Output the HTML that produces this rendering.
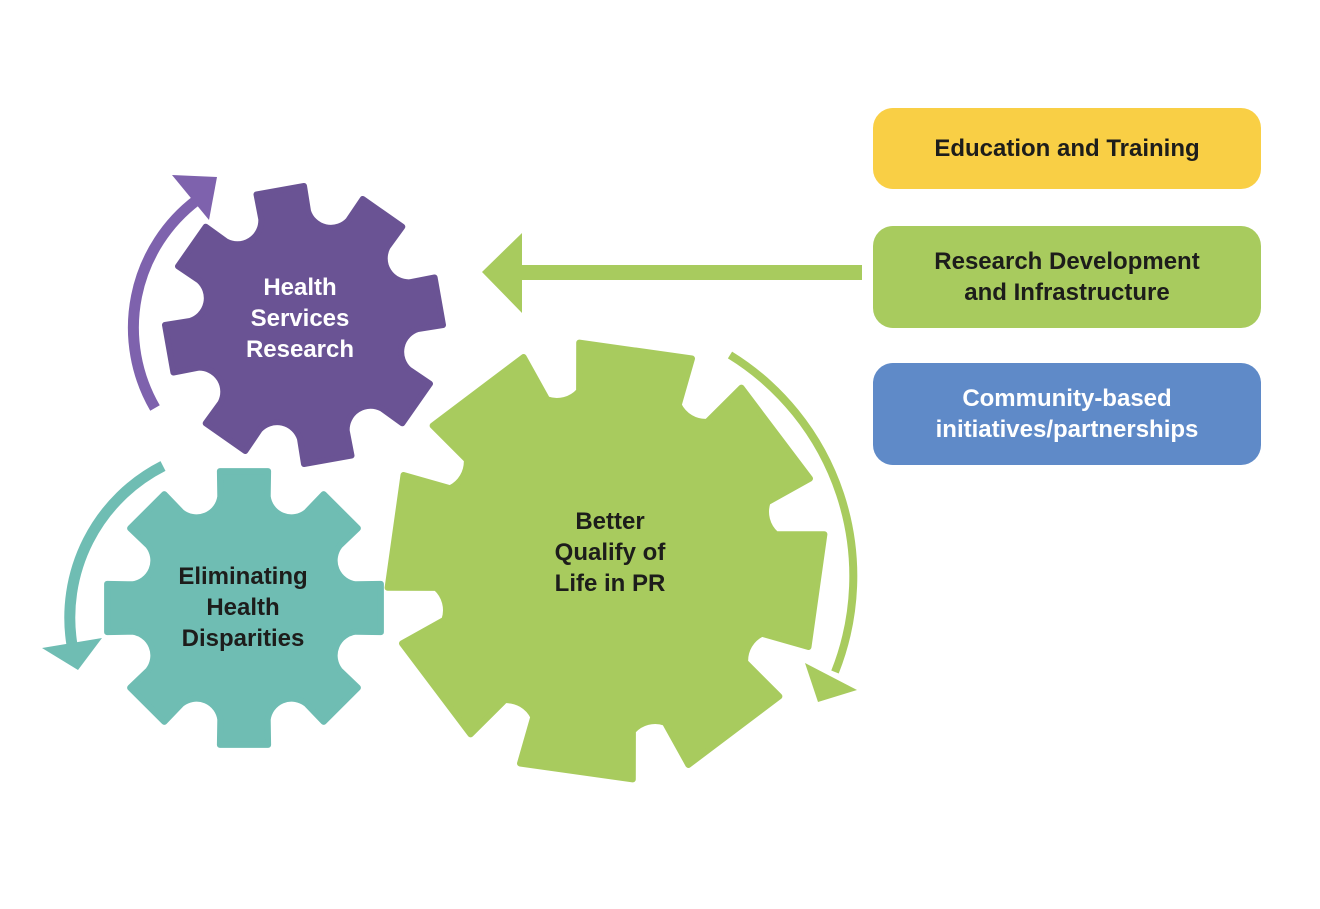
<!DOCTYPE html>
<html><head><meta charset="utf-8"><style>
html,body{margin:0;padding:0;background:#fff;}
body{width:1320px;height:909px;overflow:hidden;position:relative;font-family:"Liberation Sans",sans-serif;}
.box{position:absolute;left:873px;width:388px;border-radius:20px;display:flex;align-items:center;justify-content:center;text-align:center;font-weight:bold;font-size:24px;line-height:31px;}
.t{position:absolute;text-align:center;font-weight:bold;font-size:24px;line-height:31px;width:240px;}
</style></head><body>
<svg id="s" width="1320" height="909" style="position:absolute;left:0;top:0">
<path id="gp" fill="#6a5394" stroke="#6a5394" stroke-width="6" stroke-linejoin="round"/>
<path id="gt" fill="#6fbdb3" stroke="#6fbdb3" stroke-width="6" stroke-linejoin="round"/>
<path id="gg" fill="#a8cb5e" stroke="#a8cb5e" stroke-width="6" stroke-linejoin="round"/>
<path d="M155,408 A160,160 0 0 1 197,200" fill="none" stroke="#7e62ad" stroke-width="11"/>
<polygon points="172,175 217,177 209,220" fill="#7e62ad"/>
<path d="M163,466 A170,170 0 0 0 72,645" fill="none" stroke="#6fbdb3" stroke-width="11"/>
<polygon points="42,648 102,638 78,670" fill="#6fbdb3"/>
<path d="M730,355 A260,260 0 0 1 835,672" fill="none" stroke="#a8cb5e" stroke-width="8"/>
<polygon points="805,663 857,690 818,702" fill="#a8cb5e"/>
<rect x="518" y="265" width="344" height="15" fill="#a8cb5e"/>
<polygon points="482,272 522,233 522,313" fill="#a8cb5e"/>
</svg>
<script>
function gear(cx,cy,R,rr,n,rot,tt,tb,vr){
 var d="",s=360/n,rad=Math.PI/180;
 function p(r,a){return (cx+r*Math.cos(a*rad)).toFixed(1)+","+(cy+r*Math.sin(a*rad)).toFixed(1);}
 for(var i=0;i<n;i++){
  var a=rot+i*s;
  d+=(i==0?"M":"L")+p(rr,a-tb)+" L"+p(R,a-tt)+" L"+p(R,a+tt)+" L"+p(rr,a+tb)+" A"+vr+","+vr+" 0 0 0 "+p(rr,a+s-tb)+" ";
 }
 return d+"Z";
}
document.getElementById("gp").setAttribute("d",gear(304,325,139,114,8,-100,10,12,24));
document.getElementById("gt").setAttribute("d",gear(244,608,139,114,8,-90,10,12,24));
document.getElementById("gg").setAttribute("d",gear(606,561,220,172,8,-82,15,17,30));
</script>
<div class="t" style="left:180px;top:272px;color:#fff">Health<br>Services<br>Research</div>
<div class="t" style="left:123px;top:561px;color:#1d1d1b">Eliminating<br>Health<br>Disparities</div>
<div class="t" style="left:490px;top:506px;color:#1d1d1b">Better<br>Qualify of<br>Life in PR</div>
<div class="box" style="top:108px;height:81px;background:#f9cf45;color:#1d1d1b">Education and Training</div>
<div class="box" style="top:226px;height:102px;background:#a8cb5e;color:#1d1d1b">Research Development<br>and Infrastructure</div>
<div class="box" style="top:363px;height:102px;background:#5f8ac8;color:#fff">Community-based<br>initiatives/partnerships</div>
</body></html>
